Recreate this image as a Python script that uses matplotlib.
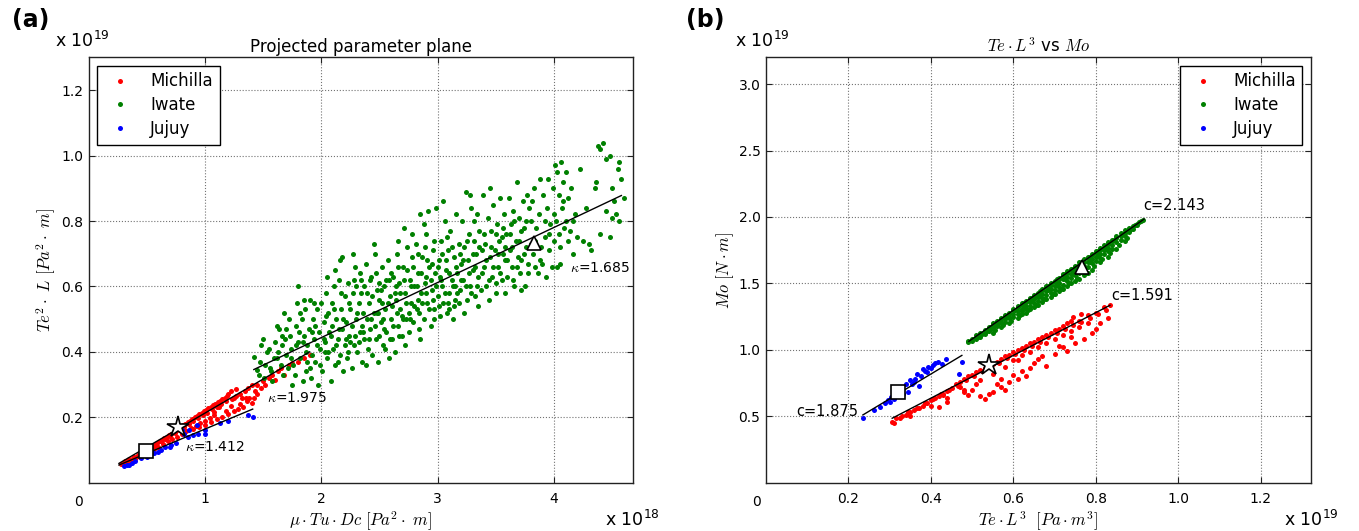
import numpy as np
import matplotlib
matplotlib.use("Agg")
import matplotlib.pyplot as plt

plt.rcParams["font.family"] = ["DejaVu Sans"]
plt.rcParams["mathtext.fontset"] = "cm"

W, H = 1359, 531

# ---------------- panel (a): projected parameter plane (x 1e18, y 1e19) ----------------
a_michilla = [
    (0.28, 0.058), (0.30, 0.062), (0.31, 0.067), (0.33, 0.065), (0.35, 0.072), (0.37, 0.070),
    (0.39, 0.078), (0.41, 0.080), (0.43, 0.085), (0.45, 0.088), (0.47, 0.092), (0.49, 0.097),
    (0.51, 0.100), (0.53, 0.106), (0.55, 0.110), (0.57, 0.115), (0.59, 0.120), (0.61, 0.126),
    (0.63, 0.130), (0.65, 0.136), (0.67, 0.140), (0.69, 0.146), (0.71, 0.150), (0.73, 0.156),
    (0.75, 0.160), (0.77, 0.166), (0.79, 0.170), (0.81, 0.176), (0.83, 0.180), (0.85, 0.185),
    (0.87, 0.190), (0.89, 0.195), (0.91, 0.200), (0.93, 0.204), (0.95, 0.210), (0.97, 0.213),
    (0.99, 0.218), (1.01, 0.222), (1.03, 0.228), (1.05, 0.232), (1.07, 0.237), (1.09, 0.241),
    (1.11, 0.246), (1.13, 0.250), (1.15, 0.255), (1.17, 0.260), (1.19, 0.264),
    (0.32, 0.060), (0.36, 0.066), (0.40, 0.073), (0.44, 0.080), (0.48, 0.088), (0.52, 0.095),
    (0.56, 0.103), (0.60, 0.110), (0.64, 0.118), (0.68, 0.126), (0.72, 0.134), (0.76, 0.141),
    (0.80, 0.150), (0.84, 0.158), (0.88, 0.166), (0.92, 0.174), (0.96, 0.182), (1.00, 0.190),
    (1.04, 0.198), (1.08, 0.206),
    (0.34, 0.070), (0.38, 0.076), (0.42, 0.084), (0.46, 0.092), (0.50, 0.100), (0.54, 0.108),
    (0.58, 0.117), (0.62, 0.126), (0.66, 0.135), (0.70, 0.144), (0.74, 0.153), (0.78, 0.162),
    (0.82, 0.170), (0.86, 0.180), (0.90, 0.190), (0.94, 0.198), (0.98, 0.206), (1.02, 0.214),
    (1.06, 0.224), (1.10, 0.232), (1.14, 0.240), (1.18, 0.250), (1.23, 0.255), (1.27, 0.265),
    (1.32, 0.260),
    (0.90, 0.165), (0.95, 0.170), (1.00, 0.175), (1.05, 0.185), (1.10, 0.195), (1.15, 0.200),
    (1.20, 0.210), (1.25, 0.220), (1.28, 0.225), (1.22, 0.235), (1.30, 0.240), (1.33, 0.230),
    (1.36, 0.250), (1.38, 0.260), (1.40, 0.245), (1.25, 0.260), (1.30, 0.270), (1.34, 0.280),
    (1.37, 0.290), (1.40, 0.300), (1.43, 0.280), (1.45, 0.270), (1.48, 0.290), (1.50, 0.310),
    (1.52, 0.300), (1.55, 0.320), (1.58, 0.330), (1.60, 0.315), (1.63, 0.340), (1.65, 0.350),
    (1.68, 0.330), (1.72, 0.360), (1.75, 0.365), (1.80, 0.370), (1.85, 0.380), (1.90, 0.390),
    (1.20, 0.270), (1.22, 0.280), (1.27, 0.285), (1.45, 0.300), (1.42, 0.260), (1.18, 0.220),
    (1.12, 0.230), (1.08, 0.215), (1.35, 0.260),
]
a_iwate = [
    (1.42, 0.385), (1.45, 0.345), (1.46, 0.33), (1.48, 0.42), (1.50, 0.44), (1.52, 0.36), (1.53, 0.40),
    (1.55, 0.41), (1.56, 0.35), (1.58, 0.31), (1.60, 0.43), (1.59, 0.38), (1.57, 0.34), (1.47, 0.37),
    (1.51, 0.32),
    (1.62, 0.48), (1.64, 0.47), (1.63, 0.40), (1.65, 0.36), (1.67, 0.33), (1.69, 0.44), (1.70, 0.39),
    (1.72, 0.50), (1.73, 0.45), (1.74, 0.41), (1.75, 0.30), (1.76, 0.36), (1.77, 0.33), (1.78, 0.48),
    (1.79, 0.55), (1.80, 0.60), (1.80, 0.43), (1.71, 0.35), (1.66, 0.42), (1.68, 0.52),
    (1.82, 0.38), (1.83, 0.50), (1.84, 0.31), (1.85, 0.45), (1.86, 0.53), (1.87, 0.34), (1.88, 0.42),
    (1.89, 0.47), (1.90, 0.56), (1.91, 0.32), (1.92, 0.39), (1.93, 0.50), (1.94, 0.44), (1.95, 0.37),
    (1.96, 0.53), (1.97, 0.30), (1.98, 0.46), (1.99, 0.41), (2.00, 0.55), (1.85, 0.56), (1.90, 0.35),
    (1.95, 0.48), (1.81, 0.46), (1.87, 0.40),
    (2.01, 0.34), (2.02, 0.49), (2.03, 0.43), (2.04, 0.58), (2.05, 0.38), (2.06, 0.52), (2.07, 0.46),
    (2.08, 0.31), (2.09, 0.55), (2.10, 0.41), (2.11, 0.60), (2.12, 0.36), (2.13, 0.50), (2.14, 0.44),
    (2.15, 0.62), (2.16, 0.39), (2.17, 0.53), (2.18, 0.47), (2.19, 0.34), (2.20, 0.57), (2.05, 0.63),
    (2.12, 0.65), (2.16, 0.68), (2.18, 0.69), (2.03, 0.40), (2.08, 0.45), (2.14, 0.37), (2.20, 0.42),
    (2.21, 0.49), (2.22, 0.38), (2.23, 0.61), (2.24, 0.45), (2.25, 0.53), (2.26, 0.35), (2.27, 0.58),
    (2.28, 0.42), (2.29, 0.66), (2.30, 0.50), (2.31, 0.40), (2.32, 0.55), (2.33, 0.46), (2.34, 0.62),
    (2.35, 0.37), (2.36, 0.52), (2.37, 0.44), (2.38, 0.67), (2.39, 0.58), (2.40, 0.41), (2.25, 0.43),
    (2.30, 0.60), (2.35, 0.48), (2.38, 0.36), (2.27, 0.70), (2.33, 0.64),
    (2.41, 0.55), (2.42, 0.47), (2.43, 0.63), (2.44, 0.39), (2.45, 0.52), (2.46, 0.70), (2.47, 0.44),
    (2.48, 0.59), (2.49, 0.37), (2.50, 0.56), (2.51, 0.49), (2.52, 0.66), (2.53, 0.42), (2.54, 0.60),
    (2.55, 0.53), (2.56, 0.46), (2.57, 0.68), (2.58, 0.38), (2.59, 0.57), (2.60, 0.50), (2.45, 0.73),
    (2.50, 0.61), (2.55, 0.41), (2.48, 0.52), (2.52, 0.55), (2.58, 0.62),
    (2.61, 0.44), (2.62, 0.63), (2.63, 0.40), (2.64, 0.56), (2.65, 0.70), (2.66, 0.48), (2.67, 0.61),
    (2.68, 0.53), (2.69, 0.45), (2.70, 0.66), (2.71, 0.78), (2.72, 0.58), (2.73, 0.50), (2.74, 0.72),
    (2.75, 0.46), (2.76, 0.62), (2.77, 0.55), (2.78, 0.69), (2.79, 0.49), (2.80, 0.60), (2.66, 0.74),
    (2.72, 0.42), (2.75, 0.52), (2.78, 0.76), (2.63, 0.58), (2.69, 0.51),
    (2.81, 0.73), (2.82, 0.53), (2.83, 0.64), (2.84, 0.47), (2.85, 0.82), (2.86, 0.58), (2.87, 0.69),
    (2.88, 0.50), (2.89, 0.61), (2.90, 0.76), (2.91, 0.55), (2.92, 0.83), (2.93, 0.66), (2.94, 0.48),
    (2.95, 0.59), (2.96, 0.71), (2.97, 0.53), (2.98, 0.64), (2.99, 0.84), (3.00, 0.57), (2.85, 0.44),
    (2.90, 0.63), (2.95, 0.67), (2.88, 0.79), (2.97, 0.50), (2.83, 0.56),
    (3.01, 0.68), (3.02, 0.51), (3.03, 0.74), (3.04, 0.60), (3.05, 0.55), (3.06, 0.80), (3.07, 0.65),
    (3.08, 0.52), (3.09, 0.71), (3.10, 0.58), (3.11, 0.77), (3.12, 0.62), (3.13, 0.50), (3.14, 0.69),
    (3.15, 0.56), (3.16, 0.82), (3.17, 0.64), (3.18, 0.73), (3.19, 0.59), (3.20, 0.67), (3.05, 0.86),
    (3.10, 0.53), (3.15, 0.60), (3.18, 0.55), (3.02, 0.63), (3.08, 0.75),
    (3.21, 0.80), (3.22, 0.62), (3.23, 0.72), (3.24, 0.89), (3.25, 0.56), (3.26, 0.68), (3.27, 0.76),
    (3.28, 0.60), (3.29, 0.84), (3.30, 0.65), (3.31, 0.74), (3.32, 0.57), (3.33, 0.70), (3.34, 0.82),
    (3.35, 0.63), (3.36, 0.77), (3.37, 0.59), (3.38, 0.71), (3.39, 0.88), (3.40, 0.66), (3.28, 0.88),
    (3.35, 0.54), (3.23, 0.52), (3.31, 0.80),
    (3.41, 0.73), (3.42, 0.60), (3.43, 0.81), (3.44, 0.56), (3.45, 0.69), (3.46, 0.77), (3.47, 0.63),
    (3.48, 0.85), (3.49, 0.71), (3.50, 0.58), (3.51, 0.79), (3.52, 0.66), (3.53, 0.74), (3.54, 0.87),
    (3.55, 0.62), (3.56, 0.70), (3.57, 0.82), (3.58, 0.68), (3.59, 0.76), (3.60, 0.63), (3.45, 0.90),
    (3.50, 0.61), (3.55, 0.75), (3.58, 0.58),
    (3.61, 0.87), (3.62, 0.71), (3.63, 0.79), (3.64, 0.66), (3.65, 0.83), (3.66, 0.60), (3.67, 0.74),
    (3.68, 0.92), (3.69, 0.69), (3.70, 0.81), (3.71, 0.64), (3.72, 0.77), (3.73, 0.86), (3.74, 0.70),
    (3.75, 0.60), (3.76, 0.80), (3.77, 0.88), (3.78, 0.67), (3.79, 0.84), (3.80, 0.73), (3.65, 0.62),
    (3.72, 0.59),
    (3.81, 0.86), (3.82, 0.70), (3.83, 0.90), (3.84, 0.66), (3.85, 0.78), (3.86, 0.64), (3.87, 0.82),
    (3.88, 0.93), (3.89, 0.72), (3.90, 0.67), (3.91, 0.88), (3.92, 0.75), (3.93, 0.63), (3.94, 0.84),
    (3.95, 0.93), (3.96, 0.71), (3.97, 0.79), (3.98, 0.66), (3.99, 0.90), (4.00, 0.74),
    (4.01, 0.97), (4.02, 0.80), (4.03, 0.66), (4.04, 0.88), (4.05, 0.72), (4.06, 0.98), (4.07, 0.84),
    (4.08, 0.92), (4.09, 0.78), (4.10, 0.95), (4.12, 0.87), (4.14, 0.77), (4.16, 0.70), (4.18, 0.82),
    (4.20, 0.75), (4.05, 0.67), (4.10, 0.80), (4.15, 0.90), (4.03, 0.95),
    (4.22, 0.96), (4.25, 0.74), (4.30, 0.73), (4.32, 0.71), (4.35, 0.90), (4.38, 1.03), (4.40, 1.02),
    (4.42, 1.04), (4.45, 0.99), (4.48, 1.00), (4.50, 0.90), (4.52, 0.86), (4.55, 0.96), (4.56, 0.98),
    (4.58, 0.93), (4.60, 0.87), (4.56, 0.80), (4.50, 0.81), (4.45, 0.83), (4.40, 0.76), (4.48, 0.75),
    (4.53, 0.82), (4.36, 0.92), (4.28, 0.84),
    # denser core
    (1.62, 0.38), (1.66, 0.45), (1.70, 0.47), (1.74, 0.38), (1.78, 0.42), (1.82, 0.52), (1.84, 0.43),
    (1.88, 0.37), (1.92, 0.46), (1.94, 0.55), (1.96, 0.42), (1.99, 0.36), (2.02, 0.44), (2.04, 0.51),
    (2.06, 0.40), (2.09, 0.48), (2.11, 0.53), (2.13, 0.42), (2.15, 0.47), (2.17, 0.58), (2.19, 0.50),
    (2.21, 0.44), (2.23, 0.40), (2.24, 0.55), (2.26, 0.48), (2.28, 0.62), (2.29, 0.45), (2.31, 0.52),
    (2.32, 0.43), (2.34, 0.58), (2.36, 0.46), (2.37, 0.60), (2.39, 0.50), (2.41, 0.44), (2.42, 0.62),
    (2.43, 0.50), (2.44, 0.57), (2.46, 0.48), (2.47, 0.64), (2.49, 0.52), (2.50, 0.45), (2.51, 0.59),
    (2.53, 0.50), (2.54, 0.47), (2.56, 0.62), (2.57, 0.55), (2.59, 0.44), (2.60, 0.64), (2.61, 0.54),
    (2.62, 0.48), (2.64, 0.60), (2.65, 0.52), (2.66, 0.66), (2.67, 0.45), (2.68, 0.58), (2.70, 0.50),
    (2.71, 0.62), (2.73, 0.55), (2.74, 0.65), (2.76, 0.50), (2.77, 0.60), (2.79, 0.66), (2.80, 0.54),
    (2.82, 0.60), (2.83, 0.70), (2.84, 0.52), (2.86, 0.64), (2.87, 0.55), (2.89, 0.72), (2.90, 0.58),
    (2.91, 0.68), (2.93, 0.53), (2.94, 0.62), (2.96, 0.56), (2.97, 0.74), (2.99, 0.60), (3.00, 0.66),
    (3.01, 0.54), (3.03, 0.62), (3.04, 0.70), (3.06, 0.58), (3.07, 0.68), (3.09, 0.55), (3.10, 0.64),
    (3.12, 0.72), (3.13, 0.60), (3.14, 0.54), (3.16, 0.66), (3.17, 0.58), (3.19, 0.70), (3.20, 0.62),
    (3.22, 0.68), (3.24, 0.60), (3.25, 0.74), (3.27, 0.64), (3.29, 0.58), (3.30, 0.70), (3.32, 0.66),
    (3.34, 0.60), (3.36, 0.72), (3.38, 0.64), (3.40, 0.76), (3.42, 0.68), (3.44, 0.62), (3.46, 0.72),
    (3.48, 0.66), (3.50, 0.76), (3.52, 0.70), (3.54, 0.64), (3.56, 0.78), (3.58, 0.72), (3.60, 0.68),
    (3.62, 0.76), (3.64, 0.72), (3.66, 0.80), (3.68, 0.66), (3.70, 0.74), (3.72, 0.68), (3.74, 0.78),
    (3.76, 0.72), (3.78, 0.64), (3.80, 0.80), (3.84, 0.74), (3.88, 0.68), (3.92, 0.80), (3.96, 0.76),
    (4.00, 0.82), (4.04, 0.76), (4.08, 0.86), (4.12, 0.74), (4.16, 0.80),
]
a_jujuy = [
    (0.30, 0.050), (0.33, 0.055), (0.35, 0.054), (0.37, 0.060), (0.40, 0.065), (0.45, 0.075),
    (0.50, 0.080), (0.56, 0.090), (0.60, 0.095), (0.66, 0.108), (0.71, 0.115), (0.75, 0.120),
    (0.80, 0.160), (0.82, 0.150), (0.85, 0.140), (0.86, 0.160), (0.90, 0.145), (0.93, 0.176),
    (0.94, 0.150), (1.00, 0.150), (1.00, 0.160), (1.13, 0.183), (1.20, 0.190), (1.37, 0.207),
    (1.41, 0.200), (0.62, 0.100), (0.70, 0.110),
]
# fit lines (kappa)
a_fit_michilla = ([0.26, 1.90], [0.059, 0.400])
a_fit_iwate = ([1.42, 4.58], [0.346, 0.878])
a_fit_jujuy = ([0.26, 1.41], [0.054, 0.225])
a_mark_square = (0.49, 0.097)
a_mark_star = (0.77, 0.171)
a_mark_triangle = (3.83, 0.733)
a_kappa = ["1.975", "1.412", "1.685"]

# ---------------- panel (b): Te*L^3 vs Mo (both x 1e19) ----------------
b_michilla = [
    (0.306, 0.46), (0.31, 0.45), (0.315, 0.49), (0.33, 0.50), (0.34, 0.51), (0.35, 0.53), (0.36, 0.55),
    (0.37, 0.56), (0.38, 0.58), (0.39, 0.60), (0.40, 0.62), (0.41, 0.64), (0.42, 0.65), (0.43, 0.67),
    (0.44, 0.69), (0.45, 0.71), (0.46, 0.74), (0.47, 0.76), (0.48, 0.78), (0.49, 0.80), (0.50, 0.81),
    (0.51, 0.83), (0.52, 0.85), (0.53, 0.86), (0.54, 0.88), (0.55, 0.89), (0.56, 0.91), (0.57, 0.93),
    (0.58, 0.95), (0.59, 0.96), (0.60, 0.98), (0.61, 1.00), (0.62, 1.01), (0.63, 1.03), (0.64, 1.05),
    (0.65, 1.06), (0.66, 1.08), (0.67, 1.10), (0.68, 1.11), (0.69, 1.13), (0.70, 1.15), (0.71, 1.16),
    (0.72, 1.18), (0.73, 1.20), (0.74, 1.22), (0.76, 1.22), (0.78, 1.26), (0.80, 1.28), (0.82, 1.32),
    (0.835, 1.34),
    (0.325, 0.49), (0.345, 0.53), (0.365, 0.56), (0.385, 0.60), (0.405, 0.63), (0.425, 0.67),
    (0.445, 0.70), (0.465, 0.73), (0.485, 0.77), (0.505, 0.80), (0.525, 0.84), (0.545, 0.87),
    (0.565, 0.90), (0.585, 0.94), (0.605, 0.97), (0.625, 1.00), (0.645, 1.03), (0.665, 1.06),
    (0.685, 1.10), (0.705, 1.13), (0.725, 1.16), (0.745, 1.19), (0.765, 1.21), (0.785, 1.24),
    (0.805, 1.27), (0.825, 1.30),
    (0.35, 0.50), (0.40, 0.58), (0.44, 0.64), (0.48, 0.70), (0.52, 0.77), (0.55, 0.82), (0.58, 0.87),
    (0.60, 0.92), (0.62, 0.96), (0.64, 0.98), (0.66, 1.02), (0.68, 1.05), (0.70, 1.08), (0.72, 1.11),
    (0.74, 1.14), (0.76, 1.17), (0.78, 1.20),
    (0.42, 0.57), (0.44, 0.61), (0.43, 0.66), (0.47, 0.72), (0.48, 0.68), (0.49, 0.66), (0.50, 0.70),
    (0.51, 0.74), (0.52, 0.65), (0.53, 0.63), (0.54, 0.67), (0.55, 0.68), (0.56, 0.74), (0.57, 0.72),
    (0.58, 0.70), (0.57, 0.78), (0.59, 0.76), (0.60, 0.81), (0.61, 0.78), (0.62, 0.84), (0.63, 0.80),
    (0.64, 0.86), (0.65, 0.90), (0.61, 0.92), (0.66, 0.93), (0.67, 0.95), (0.68, 0.88), (0.70, 0.97),
    (0.72, 1.02), (0.73, 0.99), (0.75, 1.05), (0.77, 1.08), (0.79, 1.13), (0.80, 1.16), (0.74, 1.10),
    (0.71, 1.03), (0.83, 1.24), (0.81, 1.20), (0.745, 1.25), (0.765, 1.27),
]
b_iwate = [
    (0.49, 1.06), (0.49, 1.07), (0.50, 1.08), (0.50, 1.07), (0.51, 1.11), (0.51, 1.09), (0.51, 1.08),
    (0.52, 1.12), (0.52, 1.10), (0.52, 1.13), (0.53, 1.15), (0.53, 1.13), (0.53, 1.12),
    (0.54, 1.17), (0.54, 1.15), (0.54, 1.14), (0.55, 1.19), (0.55, 1.17), (0.55, 1.16), (0.55, 1.20),
    (0.56, 1.21), (0.56, 1.19), (0.56, 1.18), (0.56, 1.22), (0.57, 1.23), (0.57, 1.21), (0.57, 1.20),
    (0.57, 1.24), (0.58, 1.25), (0.58, 1.23), (0.58, 1.21), (0.58, 1.26), (0.59, 1.27), (0.59, 1.25),
    (0.59, 1.24), (0.59, 1.28), (0.60, 1.30), (0.60, 1.27), (0.60, 1.25), (0.60, 1.31),
    (0.61, 1.32), (0.61, 1.29), (0.61, 1.27), (0.61, 1.33), (0.62, 1.34), (0.62, 1.31), (0.62, 1.29),
    (0.62, 1.35), (0.62, 1.27), (0.63, 1.36), (0.63, 1.33), (0.63, 1.31), (0.63, 1.37),
    (0.64, 1.38), (0.64, 1.36), (0.64, 1.33), (0.64, 1.39), (0.64, 1.31), (0.65, 1.40), (0.65, 1.38),
    (0.65, 1.35), (0.65, 1.41), (0.66, 1.42), (0.66, 1.40), (0.66, 1.37), (0.66, 1.43), (0.66, 1.34),
    (0.67, 1.45), (0.67, 1.42), (0.67, 1.39), (0.67, 1.46), (0.68, 1.47), (0.68, 1.44), (0.68, 1.41),
    (0.68, 1.48), (0.68, 1.38), (0.69, 1.49), (0.69, 1.46), (0.69, 1.43), (0.69, 1.50),
    (0.70, 1.51), (0.70, 1.48), (0.70, 1.45), (0.70, 1.52), (0.70, 1.42), (0.71, 1.53), (0.71, 1.50),
    (0.71, 1.47), (0.71, 1.54), (0.72, 1.56), (0.72, 1.53), (0.72, 1.49), (0.72, 1.57), (0.72, 1.46),
    (0.73, 1.58), (0.73, 1.55), (0.73, 1.52), (0.73, 1.59), (0.74, 1.60), (0.74, 1.57), (0.74, 1.54),
    (0.74, 1.61), (0.74, 1.50), (0.75, 1.62), (0.75, 1.59), (0.75, 1.56), (0.75, 1.63),
    (0.76, 1.64), (0.76, 1.61), (0.76, 1.58), (0.76, 1.66), (0.76, 1.53), (0.77, 1.66), (0.77, 1.63),
    (0.77, 1.60), (0.77, 1.68), (0.78, 1.69), (0.78, 1.66), (0.78, 1.62), (0.78, 1.70), (0.78, 1.58),
    (0.79, 1.71), (0.79, 1.68), (0.79, 1.65), (0.79, 1.72), (0.80, 1.73), (0.80, 1.70), (0.80, 1.67),
    (0.80, 1.74), (0.81, 1.75), (0.81, 1.72), (0.81, 1.69), (0.81, 1.77), (0.82, 1.77), (0.82, 1.75),
    (0.82, 1.72), (0.82, 1.79), (0.83, 1.80), (0.83, 1.77), (0.83, 1.74), (0.83, 1.81),
    (0.84, 1.82), (0.84, 1.79), (0.84, 1.76), (0.84, 1.83), (0.85, 1.84), (0.85, 1.81), (0.85, 1.86),
    (0.86, 1.86), (0.86, 1.83), (0.86, 1.88), (0.87, 1.88), (0.87, 1.86), (0.87, 1.90), (0.88, 1.91),
    (0.88, 1.89), (0.88, 1.92), (0.89, 1.93), (0.89, 1.91), (0.90, 1.95), (0.90, 1.94), (0.91, 1.97),
    (0.915, 1.98),
    # lower fringe of the band
    (0.55, 1.13), (0.555, 1.15), (0.57, 1.17), (0.575, 1.19), (0.59, 1.20), (0.595, 1.22),
    (0.61, 1.24), (0.615, 1.26), (0.63, 1.28), (0.635, 1.30), (0.625, 1.33), (0.65, 1.32),
    (0.655, 1.34), (0.645, 1.37), (0.67, 1.36), (0.675, 1.38), (0.665, 1.41), (0.69, 1.40),
    (0.695, 1.42), (0.685, 1.45), (0.71, 1.44), (0.715, 1.46), (0.705, 1.49), (0.73, 1.48),
    (0.735, 1.50), (0.725, 1.53), (0.75, 1.52), (0.755, 1.54), (0.745, 1.57), (0.77, 1.56),
    (0.775, 1.58), (0.765, 1.61), (0.79, 1.60), (0.795, 1.63), (0.785, 1.66), (0.81, 1.66),
    (0.815, 1.68), (0.805, 1.71), (0.83, 1.70), (0.835, 1.73), (0.85, 1.76), (0.855, 1.79),
    (0.87, 1.82), (0.875, 1.84),
    (0.515, 1.10), (0.525, 1.12), (0.535, 1.14), (0.545, 1.17), (0.565, 1.21), (0.585, 1.25),
    (0.605, 1.30), (0.625, 1.35), (0.645, 1.39), (0.665, 1.44), (0.685, 1.48), (0.705, 1.53),
    (0.725, 1.57), (0.745, 1.61), (0.765, 1.65), (0.785, 1.70), (0.805, 1.74), (0.825, 1.78),
    (0.845, 1.83), (0.865, 1.87), (0.885, 1.91), (0.895, 1.94), (0.905, 1.96),
]
b_jujuy = [
    (0.235, 0.485), (0.262, 0.548), (0.276, 0.573), (0.289, 0.600), (0.295, 0.62), (0.300, 0.61),
    (0.304, 0.644), (0.310, 0.63), (0.319, 0.707), (0.327, 0.720), (0.332, 0.670), (0.340, 0.745),
    (0.345, 0.680), (0.349, 0.770), (0.355, 0.74), (0.362, 0.782), (0.366, 0.820), (0.370, 0.730),
    (0.375, 0.80), (0.380, 0.858), (0.385, 0.84), (0.392, 0.870), (0.400, 0.86), (0.405, 0.883),
    (0.410, 0.90), (0.418, 0.908), (0.427, 0.895), (0.436, 0.933), (0.468, 0.820), (0.475, 0.908),
    (0.33, 0.69), (0.36, 0.76), (0.39, 0.83),
]
b_fit_michilla = ([0.306, 0.834], [0.485, 1.335])
b_fit_iwate = ([0.492, 0.917], [1.064, 1.984])
b_fit_jujuy = ([0.235, 0.475], [0.510, 0.958])
b_mark_square = (0.32, 0.682)
b_mark_star = (0.541, 0.883)
b_mark_triangle = (0.767, 1.625)
b_c = ["2.143", "1.591", "1.875"]

colors = {"Michilla": "r", "Iwate": "g", "Jujuy": "b"}


def px(x, y):
    return x / W, 1 - y / H


def style_axes(ax):
    ax.grid(True, color="0.45", linestyle=":", linewidth=0.8)
    ax.set_axisbelow(True)
    ax.tick_params(direction="in", top=True, right=True, length=4.5, width=0.8,
                   labelsize=10, color="#222222")
    ax.tick_params(axis="x", pad=7)
    ax.tick_params(axis="y", pad=4)
    for s in ax.spines.values():
        s.set_color("#222222")
        s.set_linewidth(1.0)


def draw_panel(ax, series, fits, marks):
    for (name, pts) in series:
        arr = np.array(pts).T
        ax.plot(arr[0], arr[1], "o", color=colors[name], ms=3.6, mew=0, label=name, zorder=3)
    for fx, fy in fits:
        ax.plot(fx, fy, "-", color="k", lw=1.0, zorder=4)
    sq, st, tr = marks
    ax.plot(*sq, "s", ms=10, mfc="w", mec="k", mew=1.2, zorder=5)
    ax.plot(*st, "*", ms=16, mfc="w", mec="k", mew=1.2, zorder=5)
    ax.plot(*tr, "^", ms=10, mfc="w", mec="k", mew=1.2, zorder=5)


fig = plt.figure(figsize=(W / 100, H / 100), dpi=100)
fig.patch.set_facecolor("white")
axw, axh = (633 - 88.7) / W, (482.7 - 57.5) / H
ax1 = fig.add_axes([88.7 / W, (H - 482.7) / H, axw, axh])
ax2 = fig.add_axes([766 / W, (H - 482.7) / H, (1310.7 - 766) / W, axh])

# ---- (a)
draw_panel(ax1, [("Michilla", a_michilla), ("Iwate", a_iwate), ("Jujuy", a_jujuy)],
           [a_fit_michilla, a_fit_iwate, a_fit_jujuy],
           (a_mark_square, a_mark_star, a_mark_triangle))
ax1.set_xlim(0, 4.68)
ax1.set_ylim(0, 1.3)
ax1.set_xticks([1, 2, 3, 4])
ax1.set_yticks([0.2, 0.4, 0.6, 0.8, 1.0, 1.2])
ax1.set_yticklabels(["0.2", "0.4", "0.6", "0.8", "1.0", "1.2"])
style_axes(ax1)
ax1.set_title("Projected parameter plane", fontsize=12, pad=4)
ax1.set_xlabel(r"$\mu\cdot Tu\cdot Dc\ [Pa^2\cdot\ m]$", fontsize=12, labelpad=2)
ax1.set_ylabel(r"$Te^2\cdot\ L\ [Pa^2\cdot\ m]$", fontsize=12, labelpad=2)
ax1.text(1.53, 0.26, r"$\kappa$=" + a_kappa[0], fontsize=10, va="center")
ax1.text(0.83, 0.108, r"$\kappa$=" + a_kappa[1], fontsize=10, va="center")
ax1.text(4.14, 0.657, r"$\kappa$=" + a_kappa[2], fontsize=10, va="center")
ax1.text(-0.018, -0.045, "0", transform=ax1.transAxes, fontsize=10, ha="center", va="center")
ax1.legend(loc="upper left", numpoints=1, fontsize=12, frameon=True, fancybox=False,
           edgecolor="k", framealpha=1, borderpad=0.4, labelspacing=0.35,
           handlelength=2, handletextpad=0.8, borderaxespad=0.5).get_frame().set_linewidth(1.0)

# ---- (b)
draw_panel(ax2, [("Michilla", b_michilla), ("Iwate", b_iwate), ("Jujuy", b_jujuy)],
           [b_fit_michilla, b_fit_iwate, b_fit_jujuy],
           (b_mark_square, b_mark_star, b_mark_triangle))
ax2.set_xlim(0, 1.321)
ax2.set_ylim(0, 3.2)
ax2.set_xticks([0.2, 0.4, 0.6, 0.8, 1.0, 1.2])
ax2.set_xticklabels(["0.2", "0.4", "0.6", "0.8", "1.0", "1.2"])
ax2.set_yticks([0.5, 1.0, 1.5, 2.0, 2.5, 3.0])
ax2.set_yticklabels(["0.5", "1.0", "1.5", "2.0", "2.5", "3.0"])
style_axes(ax2)
ax2.set_title(r"$Te\cdot L^3$ vs $Mo$", fontsize=12, pad=4)
ax2.set_xlabel(r"$Te\cdot L^3\ \ [Pa\cdot m^3]$", fontsize=12, labelpad=2)
ax2.set_ylabel(r"$Mo\ [N\cdot m]$", fontsize=12, labelpad=2)
ax2.text(0.915, 2.085, "c=" + b_c[0], fontsize=10.5, va="center")
ax2.text(0.837, 1.406, "c=" + b_c[1], fontsize=10.5, va="center")
ax2.text(0.223, 0.538, "c=" + b_c[2], fontsize=10.5, va="center", ha="right")
ax2.text(-0.018, -0.045, "0", transform=ax2.transAxes, fontsize=10, ha="center", va="center")
ax2.legend(loc="upper right", numpoints=1, fontsize=12, frameon=True, fancybox=False,
           edgecolor="k", framealpha=1, borderpad=0.4, labelspacing=0.35,
           handlelength=2, handletextpad=0.8, borderaxespad=0.5).get_frame().set_linewidth(1.0)

# panel letters and multipliers
fig.text(*px(30.5, 20), "(a)", fontsize=17, fontweight="bold", ha="center", va="center")
fig.text(*px(705, 20), "(b)", fontsize=17, fontweight="bold", ha="center", va="center")
mult19 = r"x $\mathregular{10^{19}}$"
mult18 = r"x $\mathregular{10^{18}}$"
fig.text(*px(55, 41), mult19, fontsize=12.5, ha="left", va="center")
fig.text(*px(735, 41), mult19, fontsize=12.5, ha="left", va="center")
fig.text(*px(605, 520), mult18, fontsize=12.5, ha="left", va="center")
fig.text(*px(1284, 520), mult19, fontsize=12.5, ha="left", va="center")

fig.savefig("out.png", dpi=100, facecolor="white")
